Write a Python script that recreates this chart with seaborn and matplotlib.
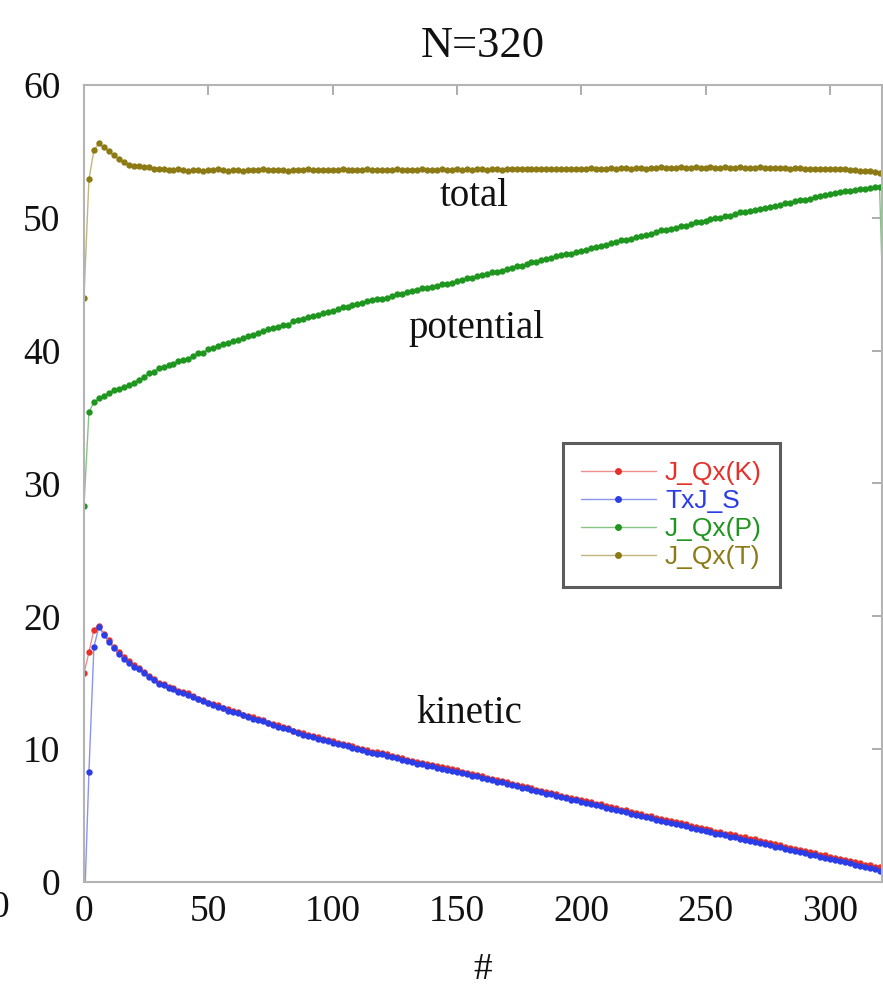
import matplotlib
matplotlib.use("Agg")
import matplotlib.pyplot as plt
import matplotlib.colors as mcolors
import seaborn as sns
import numpy as np

# ---------------- data ----------------
title = "N=320"
xlabel = "#"
series_names = ["J_Qx(K)", "TxJ_S", "J_Qx(P)", "J_Qx(T)"]
series_colors = ["#e6302a", "#2a3de6", "#1f961f", "#8c7a14"]

x_index = list(range(0, 321, 2))          # bins 0..320
x_index_p = list(range(0, 323, 2))        # potential has one extra (clipped) bin

J_Qx_K = [
    15.7, 17.3, 19.0, 19.3, 18.7, 18.2, 17.7, 17.3, 16.9, 16.6,
    16.3, 16.1, 15.8, 15.5, 15.3, 15.0, 14.9, 14.7, 14.6, 14.4,
    14.3, 14.2, 14.0, 13.8, 13.7, 13.5, 13.4, 13.3, 13.1, 13.0,
    12.9, 12.8, 12.6, 12.5, 12.4, 12.3, 12.2, 12.0, 11.9, 11.8,
    11.7, 11.6, 11.4, 11.3, 11.2, 11.1, 11.0, 10.9, 10.8, 10.7,
    10.6, 10.5, 10.4, 10.3, 10.2, 10.1, 10.0, 9.9, 9.8, 9.75,
    9.7, 9.6, 9.5, 9.4, 9.3, 9.2, 9.1, 9.05, 8.95, 8.9,
    8.8, 8.7, 8.65, 8.55, 8.5, 8.4, 8.3, 8.2, 8.15, 8.05,
    7.95, 7.85, 7.75, 7.7, 7.6, 7.5, 7.4, 7.3, 7.25, 7.15,
    7.05, 6.95, 6.85, 6.8, 6.7, 6.6, 6.5, 6.4, 6.35, 6.25,
    6.2, 6.1, 6.0, 5.9, 5.85, 5.75, 5.65, 5.55, 5.45, 5.4,
    5.3, 5.2, 5.1, 5.0, 4.95, 4.85, 4.75, 4.7, 4.6, 4.5,
    4.45, 4.35, 4.25, 4.15, 4.1, 4.0, 3.9, 3.8, 3.75, 3.65,
    3.6, 3.5, 3.4, 3.35, 3.25, 3.2, 3.1, 3.0, 2.9, 2.85,
    2.75, 2.65, 2.55, 2.5, 2.4, 2.35, 2.25, 2.15, 2.05, 2.0,
    1.9, 1.8, 1.7, 1.65, 1.55, 1.5, 1.4, 1.3, 1.25, 1.15,
    1.1,
]

TxJ_S = [
    -3.0, 8.3, 17.7, 19.2, 18.6, 18.1, 17.6, 17.2, 16.8, 16.5,
    16.2, 16.0, 15.7, 15.4, 15.2, 14.9, 14.8, 14.6, 14.5, 14.3,
    14.2, 14.1, 13.9, 13.8, 13.6, 13.5, 13.3, 13.2, 13.1, 12.9,
    12.8, 12.7, 12.6, 12.4, 12.3, 12.2, 12.1, 12.0, 11.8, 11.7,
    11.6, 11.5, 11.4, 11.2, 11.1, 11.0, 10.9, 10.8, 10.7, 10.6,
    10.5, 10.4, 10.3, 10.2, 10.1, 10.0, 9.9, 9.8, 9.7, 9.65,
    9.6, 9.5, 9.4, 9.3, 9.2, 9.1, 9.0, 8.9, 8.85, 8.75,
    8.7, 8.6, 8.5, 8.45, 8.35, 8.3, 8.2, 8.1, 8.0, 7.95,
    7.85, 7.75, 7.65, 7.55, 7.5, 7.4, 7.3, 7.2, 7.1, 7.05,
    6.95, 6.85, 6.75, 6.65, 6.6, 6.5, 6.4, 6.3, 6.2, 6.15,
    6.05, 5.95, 5.85, 5.8, 5.7, 5.6, 5.5, 5.4, 5.35, 5.25,
    5.15, 5.05, 4.95, 4.9, 4.8, 4.7, 4.6, 4.55, 4.45, 4.35,
    4.3, 4.2, 4.1, 4.0, 3.95, 3.85, 3.75, 3.65, 3.6, 3.5,
    3.4, 3.35, 3.25, 3.15, 3.1, 3.0, 2.9, 2.85, 2.75, 2.65,
    2.6, 2.5, 2.4, 2.35, 2.25, 2.15, 2.05, 2.0, 1.9, 1.8,
    1.75, 1.65, 1.55, 1.5, 1.4, 1.3, 1.2, 1.15, 1.05, 0.95,
    0.85,
]

J_Qx_P = [
    28.3, 35.4, 36.1, 36.4, 36.6, 36.8, 37.0, 37.1, 37.3, 37.4,
    37.6, 37.8, 38.0, 38.3, 38.4, 38.7, 38.8, 38.9, 39.0, 39.25,
    39.3, 39.35, 39.6, 39.8, 39.85, 40.1, 40.2, 40.35, 40.5, 40.55,
    40.7, 40.8, 40.95, 41.1, 41.2, 41.3, 41.45, 41.6, 41.7, 41.8,
    41.9, 41.95, 42.2, 42.3, 42.4, 42.55, 42.6, 42.7, 42.8, 42.9,
    43.0, 43.1, 43.25, 43.3, 43.4, 43.5, 43.6, 43.75, 43.8, 43.85,
    43.9, 44.0, 44.1, 44.25, 44.3, 44.4, 44.5, 44.55, 44.7, 44.7,
    44.8, 44.9, 45.0, 45.05, 45.1, 45.25, 45.3, 45.45, 45.45, 45.6,
    45.7, 45.75, 45.9, 45.95, 46.0, 46.15, 46.25, 46.4, 46.4, 46.5,
    46.65, 46.7, 46.85, 46.9, 46.95, 47.1, 47.2, 47.3, 47.3, 47.45,
    47.5, 47.6, 47.75, 47.8, 47.85, 47.95, 48.1, 48.15, 48.3, 48.35,
    48.4, 48.55, 48.65, 48.7, 48.8, 48.9, 49.05, 49.05, 49.15, 49.25,
    49.35, 49.4, 49.5, 49.65, 49.65, 49.75, 49.9, 49.95, 50.0, 50.15,
    50.15, 50.25, 50.4, 50.4, 50.5, 50.55, 50.7, 50.75, 50.85, 50.9,
    51.0, 51.1, 51.15, 51.25, 51.35, 51.35, 51.45, 51.55, 51.65, 51.7,
    51.8, 51.9, 51.95, 52.0, 52.05, 52.1, 52.15, 52.2, 52.25, 52.3,
    52.3, 40.0,
]

J_Qx_T = [
    44.0, 52.9, 55.1, 55.6, 55.3, 55.0, 54.7, 54.4, 54.2, 54.0,
    53.9, 53.9, 53.8, 53.8, 53.7, 53.7, 53.7, 53.6, 53.6, 53.65,
    53.6, 53.55, 53.6, 53.6, 53.55, 53.6, 53.6, 53.65, 53.6, 53.55,
    53.6, 53.6, 53.55, 53.6, 53.6, 53.6, 53.65, 53.6, 53.6, 53.6,
    53.6, 53.55, 53.6, 53.6, 53.6, 53.65, 53.6, 53.6, 53.6, 53.6,
    53.6, 53.6, 53.65, 53.6, 53.6, 53.6, 53.6, 53.65, 53.6, 53.6,
    53.6, 53.6, 53.6, 53.65, 53.6, 53.6, 53.6, 53.6, 53.65, 53.6,
    53.6, 53.6, 53.65, 53.6, 53.6, 53.65, 53.6, 53.65, 53.6, 53.65,
    53.65, 53.6, 53.65, 53.65, 53.6, 53.65, 53.65, 53.7, 53.65, 53.65,
    53.7, 53.65, 53.7, 53.7, 53.65, 53.7, 53.7, 53.7, 53.65, 53.7,
    53.7, 53.7, 53.75, 53.7, 53.7, 53.7, 53.75, 53.7, 53.75, 53.75,
    53.7, 53.75, 53.75, 53.7, 53.75, 53.75, 53.8, 53.75, 53.75, 53.75,
    53.8, 53.75, 53.75, 53.8, 53.75, 53.75, 53.8, 53.75, 53.75, 53.8,
    53.75, 53.75, 53.8, 53.75, 53.75, 53.75, 53.8, 53.75, 53.75, 53.75,
    53.75, 53.75, 53.7, 53.75, 53.75, 53.7, 53.7, 53.7, 53.7, 53.7,
    53.7, 53.7, 53.65, 53.65, 53.6, 53.6, 53.55, 53.5, 53.5, 53.45,
    53.4,
]

annotations = [("total", 157, 51.6), ("potential", 158, 41.7), ("kinetic", 155, 12.7)]
x_ticks = [0, 50, 100, 150, 200, 250, 300]
y_ticks = [0, 10, 20, 30, 40, 50, 60]

# ---------------- style ----------------
sns.set_theme(style="white")
plt.rcParams["font.family"] = ["Liberation Serif", "DejaVu Serif"]

fig = plt.figure(figsize=(8.83, 9.88), dpi=100)
ax = fig.add_axes([0.0951, 0.1073, 0.9038, 0.8067])


def lighten(c, amt=0.45):
    r, g, b = mcolors.to_rgb(c)
    return (r + (1 - r) * amt, g + (1 - g) * amt, b + (1 - b) * amt)


series = [
    (x_index, J_Qx_K),
    (x_index, TxJ_S),
    (x_index_p, J_Qx_P),
    (x_index, J_Qx_T),
]
for (xs, ys), name, col in zip(series, series_names, series_colors):
    sns.lineplot(x=xs, y=ys, ax=ax, color=col, label=name, marker="o",
                 markersize=4.6, markeredgewidth=0, linewidth=1.0,
                 estimator=None, sort=False)

for line, col in zip(ax.get_lines(), series_colors):
    line.set_markerfacecolor(col)
    line.set_markeredgecolor(col)
    line.set_color(lighten(col))

ax.set_xlim(0, 321)
ax.set_ylim(0, 60)
ax.set_xticks(x_ticks)
ax.set_yticks(y_ticks)

for sp in ax.spines.values():
    sp.set_color("#b4b4b4")
    sp.set_linewidth(1.5)

ax.tick_params(axis="both", direction="in", length=7, width=1.2,
               color="#a0a0a0", top=True, right=True, labelsize=27,
               labelcolor="#111111")
ax.tick_params(axis="y", pad=17)
ax.tick_params(axis="x", pad=9)
for lab in ax.get_yticklabels():
    lab.set_verticalalignment("center_baseline")

ax.set_title(title, fontsize=32, pad=20, color="#111111")
ax.set_xlabel(xlabel, fontsize=27, labelpad=17, color="#111111")
ax.set_ylabel("")

for txt, tx, ty in annotations:
    ax.text(tx, ty, txt, fontsize=28, ha="center", va="center", color="#111111")

# stray clipped tick label at the far left edge of the image
fig.text(0.0, 0.081, "0", fontsize=27, ha="center", va="center", color="#111111")

handles, labels = ax.get_legend_handles_labels()
leg = ax.legend(handles, labels, loc="upper right",
                bbox_to_anchor=(0.872, 0.551), borderaxespad=0,
                fancybox=False, frameon=True, handlelength=2.85,
                prop={"family": "Liberation Sans", "size": 19},
                labelspacing=0.16, borderpad=0.68, handletextpad=0.35)
leg.get_frame().set_edgecolor("#333333")
leg.get_frame().set_linewidth(2.2)
for t, col in zip(leg.get_texts(), series_colors):
    t.set_color(col)
for h, col in zip(leg.legend_handles, series_colors):
    h.set_markersize(5)
    h.set_markerfacecolor(col)
    h.set_markeredgecolor(col)
    h.set_color(lighten(col))

fig.savefig("out.png", dpi=100)
